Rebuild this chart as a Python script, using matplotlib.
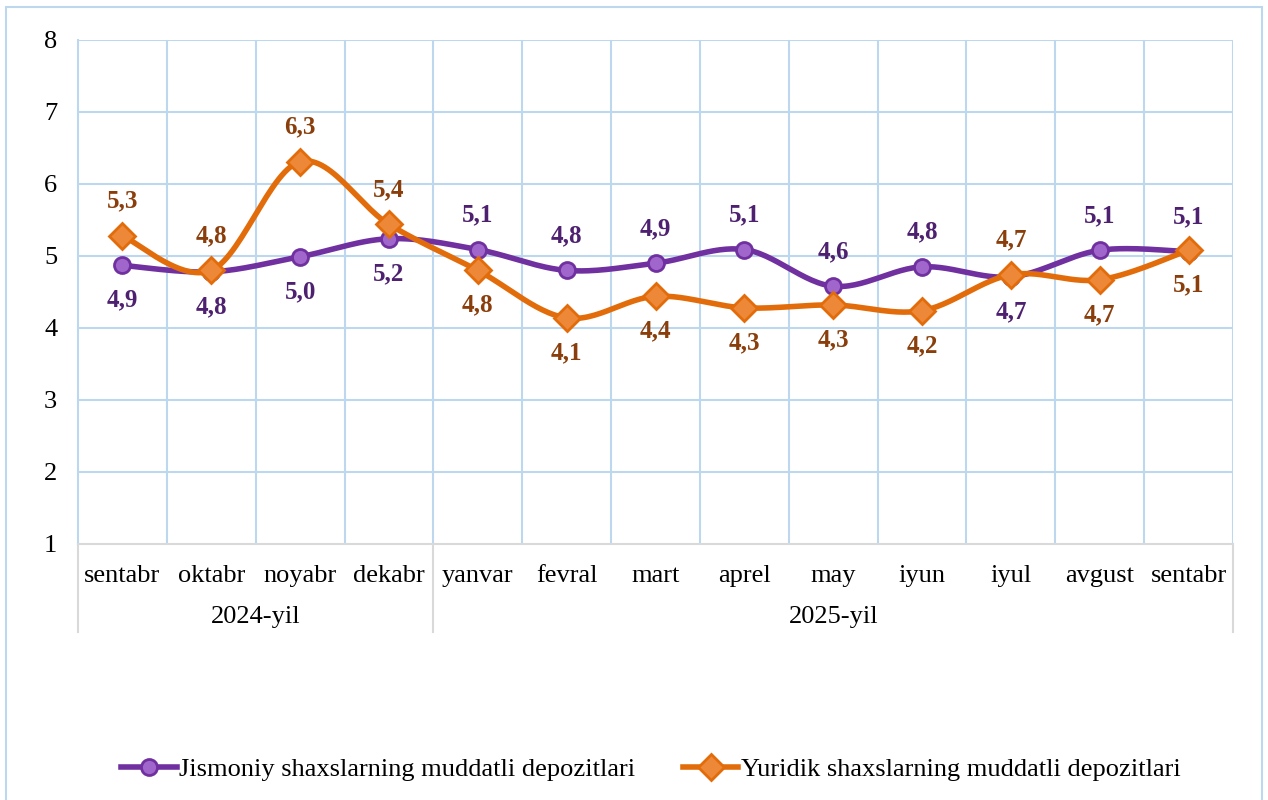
import numpy as np
import matplotlib
matplotlib.use('Agg')
from matplotlib import pyplot as plt
from matplotlib.patches import Rectangle
from matplotlib.lines import Line2D

plt.rcParams['font.family'] = ['Liberation Serif', 'DejaVu Serif']

months = ['sentabr', 'oktabr', 'noyabr', 'dekabr', 'yanvar', 'fevral', 'mart',
          'aprel', 'may', 'iyun', 'iyul', 'avgust', 'sentabr']
years = ['2024-yil', '2025-yil']
year_sizes = [4, 9]

jismoniy = [4.87, 4.78, 4.99, 5.24, 5.09, 4.80, 4.90, 5.09, 4.58, 4.85, 4.71, 5.08, 5.06]
yuridik = [5.28, 4.80, 6.31, 5.44, 4.80, 4.14, 4.44, 4.28, 4.32, 4.24, 4.74, 4.67, 5.08]

# label position: 1 = above, -1 = below
jis_pos = [-1, -1, -1, -1, 1, 1, 1, 1, 1, 1, -1, 1, 1]
yur_pos = [1, 1, 1, 1, -1, -1, -1, -1, -1, -1, 1, -1, -1]

c_jis, c_jis_fill, c_jis_lab = '#7030A0', '#A066CC', '#4E2170'
c_yur, c_yur_fill, c_yur_lab = '#E36C0A', '#ED8838', '#8A3E0B'
grid_c = '#BDD7EE'
axis_c = '#D9D9D9'
fs = 19


def smooth(xs, ys, n=30):
    # catmull-rom curve through the points (like excel "smoothed line")
    p = np.column_stack([xs, ys]).astype(float)
    p = np.vstack([p[0], p, p[-1]])
    out = []
    for i in range(1, len(p) - 2):
        p0, p1, p2, p3 = p[i - 1], p[i], p[i + 1], p[i + 2]
        t = np.linspace(0, 1, n)[:, None]
        c1 = p1 + (p2 - p0) / 6
        c2 = p2 - (p3 - p1) / 6
        seg = (1 - t) ** 3 * p1 + 3 * (1 - t) ** 2 * t * c1 + 3 * (1 - t) * t ** 2 * c2 + t ** 3 * p2
        out.append(seg)
    out = np.vstack(out)
    return out[:, 0], out[:, 1]


fig = plt.figure(figsize=(12.68, 8), dpi=100)
ax = fig.add_axes([78 / 1268, 1 - 544 / 800, (1233 - 78) / 1268, 504 / 800])

x = np.arange(len(months))
ax.set_xlim(-0.5, len(months) - 0.5)
ax.set_ylim(1, 8)

# grid
for yv in range(2, 9):
    ax.axhline(yv, color=grid_c, lw=1.5, zorder=0)
for xv in np.arange(0.5, len(months), 1):
    ax.axvline(xv, color=grid_c, lw=1.5, zorder=0)

for s in ['top', 'right']:
    ax.spines[s].set_visible(False)
ax.spines['left'].set_color(grid_c)
ax.spines['left'].set_linewidth(1.5)
ax.spines['bottom'].set_color(axis_c)
ax.spines['bottom'].set_linewidth(1.5)

sx, sy = smooth(x, jismoniy)
ax.plot(sx, sy, color=c_jis, lw=4, zorder=3, solid_capstyle='round')
ax.plot(x, jismoniy, 'o', ms=11.5, mfc=c_jis_fill, mec=c_jis, mew=2, zorder=4)

sx, sy = smooth(x, yuridik)
ax.plot(sx, sy, color=c_yur, lw=4, zorder=5, solid_capstyle='round')
ax.plot(x, yuridik, 'D', ms=13, mfc=c_yur_fill, mec=c_yur, mew=2, zorder=6)

for xi, v, p in zip(x, jismoniy, jis_pos):
    ax.annotate('{:.1f}'.format(v).replace('.', ','), (xi, v), xytext=(0, 25 * p),
                textcoords='offset points', ha='center', va='center',
                fontsize=18, fontweight='bold', color=c_jis_lab, zorder=7)
for xi, v, p in zip(x, yuridik, yur_pos):
    ax.annotate('{:.1f}'.format(v).replace('.', ','), (xi, v), xytext=(0, 25 * p),
                textcoords='offset points', ha='center', va='center',
                fontsize=18, fontweight='bold', color=c_yur_lab, zorder=7)

ax.set_yticks(range(1, 9))
ax.set_yticklabels([str(i) for i in range(1, 9)], fontsize=fs)
ax.tick_params(axis='y', length=0, pad=15)
ax.set_xticks(x)
ax.set_xticklabels(months, fontsize=fs)
ax.tick_params(axis='x', length=0, pad=15)

# year groups under the month labels
trans = ax.get_xaxis_transform()
edges = [-0.5]
for n in year_sizes:
    edges.append(edges[-1] + n)
for e in edges:
    ax.plot([e, e], [0, -88 / 504], color=axis_c, lw=1.5, transform=trans, clip_on=False)
for i, yl in enumerate(years):
    ax.text((edges[i] + edges[i + 1]) / 2, -73 / 504, yl, transform=trans,
            ha='center', va='center', fontsize=fs)

# legend
handles = [Line2D([], [], color=c_jis, lw=4, marker='o', ms=11.5, mfc=c_jis_fill, mec=c_jis, mew=2),
           Line2D([], [], color=c_yur, lw=4, marker='D', ms=13, mfc=c_yur_fill, mec=c_yur, mew=2)]
fig.legend(handles, ['Jismoniy shaxslarning muddatli depozitlari', 'Yuridik shaxslarning muddatli depozitlari'],
           loc='center', bbox_to_anchor=(651 / 1268, 1 - 769 / 800), ncol=2, frameon=False,
           fontsize=fs, handlelength=2.1, handletextpad=0.1, columnspacing=1.8)

fig.patches.append(Rectangle((6 / 1268, -0.01), 1256 / 1268, 1 - 7 / 800 + 0.01,
                             transform=fig.transFigure, fill=False, ec=grid_c, lw=1.5))

fig.savefig('out.png', dpi=100)
